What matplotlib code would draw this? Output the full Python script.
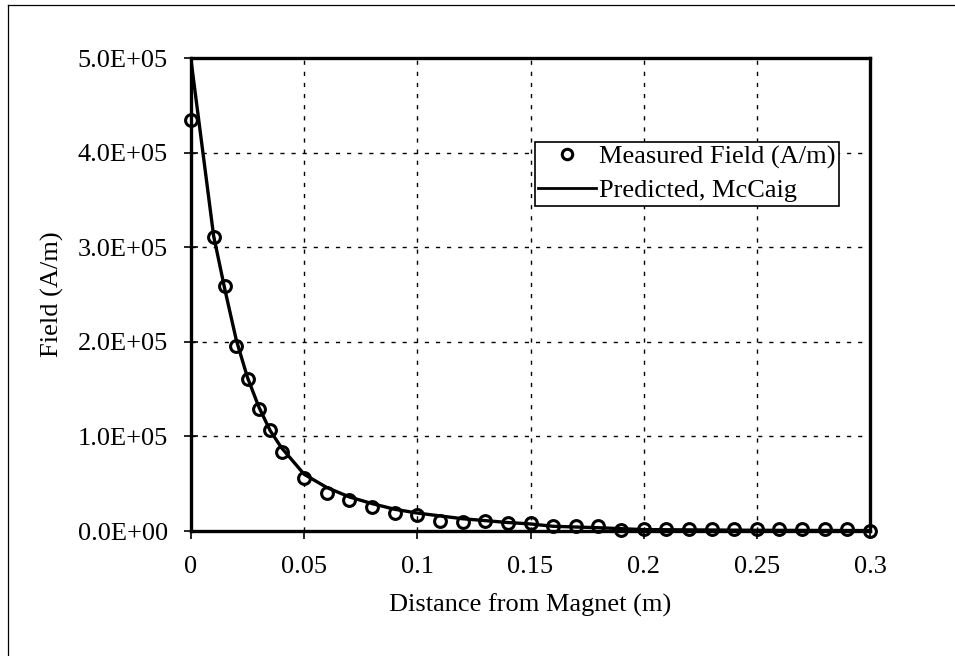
import matplotlib
matplotlib.use("Agg")
import matplotlib.pyplot as plt
from matplotlib.lines import Line2D

# measured field (A/m) vs distance from magnet (m)
meas_x = [0.0, 0.01, 0.015, 0.02, 0.025, 0.03, 0.035, 0.04, 0.05, 0.06,
          0.07, 0.08, 0.09, 0.10, 0.11, 0.12, 0.13, 0.14, 0.15, 0.16,
          0.17, 0.18, 0.19, 0.20, 0.21, 0.22, 0.23, 0.24, 0.25, 0.26,
          0.27, 0.28, 0.29, 0.30]
meas_y = [434e3, 311e3, 259e3, 196e3, 161e3, 129e3, 107e3, 84e3, 56e3, 40e3,
          33e3, 25e3, 19e3, 17e3, 11e3, 10e3, 11e3, 9e3, 9e3, 5e3,
          5e3, 5e3, 1e3, 2e3, 2e3, 2.5e3, 2e3, 2e3, 2.5e3, 2.5e3,
          2.5e3, 2.5e3, 2.5e3, 0.0]

# predicted (McCaig)
pred_x = [0.0, 0.01, 0.015, 0.02, 0.025, 0.03, 0.035, 0.04, 0.05, 0.06,
          0.07, 0.08, 0.09, 0.10, 0.12, 0.14, 0.15, 0.16, 0.18, 0.20,
          0.25, 0.30]
pred_y = [498e3, 312e3, 255e3, 202e3, 162e3, 131e3, 106e3, 88e3, 60e3, 46e3,
          36e3, 29e3, 23e3, 19e3, 13e3, 9e3, 7.5e3, 5e3, 3.5e3, 1.5e3,
          0.8e3, 0.5e3]

xticks = [0, 0.05, 0.1, 0.15, 0.2, 0.25, 0.3]
xtick_labels = ["0", "0.05", "0.1", "0.15", "0.2", "0.25", "0.3"]
yticks = [0, 1e5, 2e5, 3e5, 4e5, 5e5]
ytick_labels = ["0.0E+00", "1.0E+05", "2.0E+05", "3.0E+05", "4.0E+05", "5.0E+05"]

plt.rcParams["font.family"] = ["Liberation Serif", "DejaVu Serif"]
FS = 19

fig = plt.figure(figsize=(9.55, 6.56), dpi=100)
ax = fig.add_axes([0.200, 0.1905, 0.711, 0.721])

ax.plot(pred_x, pred_y, color="black", lw=2.4, zorder=3)
ax.plot(meas_x, meas_y, linestyle="none", marker="o", ms=8.5,
        mfc="none", mec="black", mew=2.2, zorder=4, clip_on=False)

ax.set_xlim(0, 0.3)
ax.set_ylim(0, 5e5)
ax.set_xticks(xticks)
ax.set_xticklabels(xtick_labels)
ax.set_yticks(yticks)
ax.set_yticklabels(ytick_labels)
ax.tick_params(axis="both", labelsize=FS, width=1.2, colors="black")
ax.tick_params(axis="y", direction="inout", length=9.5, pad=12)
ax.tick_params(axis="x", direction="out", length=6, pad=12)

ax.grid(True, color="black", linestyle=(0, (3, 5)), linewidth=1.0)
ax.set_axisbelow(True)
for sp in ax.spines.values():
    sp.set_linewidth(2.4)
    sp.set_color("black")

ax.set_xlabel("Distance from Magnet (m)", fontsize=FS, labelpad=11)
ax.set_ylabel("Field (A/m)", fontsize=FS, labelpad=10)

handles = [
    Line2D([], [], linestyle="none", marker="o", ms=7.5, mfc="none",
           mec="black", mew=2.2),
    Line2D([], [], color="black", lw=2.0),
]
leg = ax.legend(handles, ["Measured Field (A/m)", "Predicted, McCaig"],
                loc="upper left", bbox_to_anchor=(0.507, 0.823),
                fontsize=FS, frameon=True, fancybox=False,
                borderpad=0.12, labelspacing=0.38, handlelength=2.2,
                handletextpad=0.1, borderaxespad=0)
leg.get_frame().set_edgecolor("black")
leg.get_frame().set_linewidth(1.2)
leg.get_frame().set_facecolor("white")
leg.get_frame().set_alpha(1)

# scanned page border (left and top)
fig.add_artist(Line2D([0.008, 0.008], [0.0, 0.992], color="black", lw=0.9,
                      transform=fig.transFigure))
fig.add_artist(Line2D([0.008, 1.0], [0.992, 0.992], color="black", lw=0.9,
                      transform=fig.transFigure))

fig.savefig("out.png", dpi=100, facecolor="white")
